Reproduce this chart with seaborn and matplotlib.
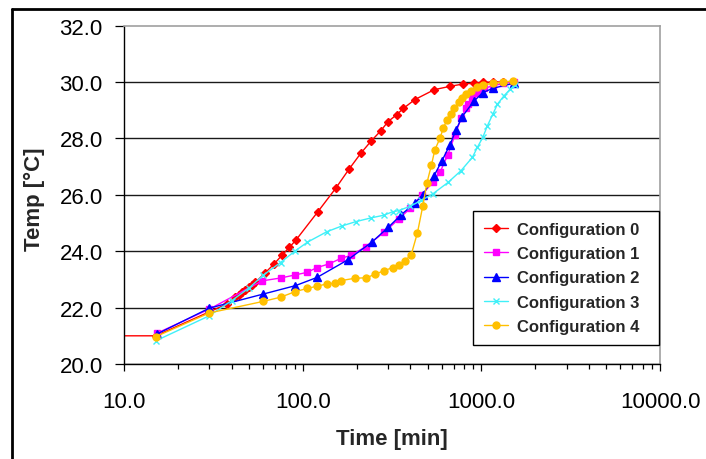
import matplotlib
matplotlib.use("Agg")
import matplotlib.pyplot as plt
import pandas as pd
import seaborn as sns
from matplotlib.lines import Line2D
from matplotlib.ticker import FixedLocator, FormatStrFormatter, LogLocator, NullFormatter

sns.set_style("white")
plt.rcParams["font.family"] = ["Liberation Sans", "DejaVu Sans"]

# ---------------------------------------------------------------
# Data (time in min, temp in degC)
# ---------------------------------------------------------------
time_c0 = [10, 15, 37.6, 41.9, 43.7, 45.6, 47.6, 49.8, 52, 54.2, 61.2, 69, 76.7, 84.1,
           91.3, 121.3, 152.6, 181.3, 210.8, 242, 273, 300, 335, 366, 424, 544, 667,
           786, 906, 1018, 1160, 1320, 1500]
temp_c0 = [21.0, 21.0, 22.13, 22.37, 22.45, 22.54, 22.62, 22.72, 22.8, 22.9, 23.22,
           23.55, 23.87, 24.14, 24.39, 25.4, 26.23, 26.91, 27.47, 27.92, 28.27, 28.6,
           28.84, 29.07, 29.38, 29.73, 29.85, 29.93, 29.96, 29.99, 30.0, 30.0, 30.0]

time_c1 = [15.2, 30, 59.2, 75, 90.6, 105.6, 120, 140, 164, 185, 225, 285, 344, 399,
           462, 533, 586, 648, 712, 769, 820, 843, 890, 950, 1040, 1160, 1320, 1520]
temp_c1 = [21.09, 21.95, 22.95, 23.05, 23.16, 23.25, 23.42, 23.55, 23.75, 23.85, 24.16,
           24.67, 25.14, 25.52, 25.99, 26.44, 26.8, 27.42, 28.13, 28.71, 29.08, 29.22,
           29.46, 29.63, 29.78, 29.87, 29.95, 30.02]

time_c2 = [15.2, 29.9, 59.9, 90.9, 120, 178, 243, 301, 356, 423, 470, 541, 600, 667,
           720, 780, 906, 1020, 1160, 1520]
temp_c2 = [21.06, 21.98, 22.48, 22.78, 23.07, 23.69, 24.32, 24.85, 25.3, 25.7, 26.0,
           26.66, 27.2, 27.78, 28.3, 28.77, 29.32, 29.63, 29.78, 29.96]

time_c3 = [15.1, 29.9, 40, 50, 60, 75, 90, 106, 136, 166, 198, 240, 285, 318, 344, 400,
           460, 533, 650, 769, 890, 950, 1018, 1080, 1160, 1230, 1340, 1450, 1540]
temp_c3 = [20.83, 21.71, 22.25, 22.7, 23.15, 23.6, 24.0, 24.32, 24.69, 24.9, 25.05,
           25.18, 25.28, 25.4, 25.44, 25.6, 25.8, 26.03, 26.44, 26.86, 27.33, 27.69,
           28.04, 28.45, 28.87, 29.22, 29.52, 29.75, 29.9]

time_c4 = [15, 29.9, 59.9, 75, 90.9, 105.6, 120, 136, 152, 164, 195, 227, 255, 285, 318,
           344, 372, 404, 438, 470, 495, 525, 548, 586, 611, 640, 674, 705, 746, 780,
           820, 870, 942, 1020, 1160, 1320, 1500]
temp_c4 = [20.97, 21.81, 22.22, 22.37, 22.57, 22.68, 22.76, 22.84, 22.87, 22.96, 23.04,
           23.06, 23.19, 23.31, 23.42, 23.51, 23.66, 23.87, 24.65, 25.62, 26.42, 27.06,
           27.59, 28.01, 28.36, 28.65, 28.87, 29.08, 29.28, 29.42, 29.57, 29.69, 29.81,
           29.89, 29.96, 30.0, 30.04]

labels = ["Configuration 0", "Configuration 1", "Configuration 2",
          "Configuration 3", "Configuration 4"]
times = [time_c0, time_c1, time_c2, time_c3, time_c4]
temps = [temp_c0, temp_c1, temp_c2, temp_c3, temp_c4]

colors = ["#FF0000", "#FF00FF", "#0000FF", "#40F0F8", "#FFC000"]
markers = ["D", "s", "^", "x", "o"]
msizes = [4.2, 5, 5.5, 5, 5]

y_ticks = [20, 22, 24, 26, 28, 30, 32]
x_ticks = [10, 100, 1000, 10000]

df = pd.concat([pd.DataFrame({"Time": t, "Temp": v, "Config": lab})
                for t, v, lab in zip(times, temps, labels)], ignore_index=True)

# ---------------------------------------------------------------
# Figure
# ---------------------------------------------------------------
W, H = 706, 460
AX_L, AX_R, AX_T, AX_B = 124.3, 660, 26.7, 365
AW, AH = AX_R - AX_L, AX_B - AX_T
fig = plt.figure(figsize=(W / 100, H / 100), dpi=100)
ax = fig.add_axes([AX_L / W, 1 - AX_B / H, AW / W, AH / H])

for lab, col, mk, ms in zip(labels, colors, markers, msizes):
    sub = df[df.Config == lab]
    n = len(sub)
    every = list(range(1, n)) if lab == "Configuration 0" else None
    sns.lineplot(data=sub, x="Time", y="Temp", ax=ax, sort=False, estimator=None,
                 color=col, marker=mk, markersize=ms, markeredgecolor=col,
                 markeredgewidth=1.0, linewidth=1.0, label=lab, markevery=every)

ax.set_xscale("log")
ax.set_xlim(10, 10000)
ax.set_ylim(20, 32)
ax.xaxis.set_major_locator(FixedLocator(x_ticks))
ax.xaxis.set_major_formatter(FormatStrFormatter("%.1f"))
ax.xaxis.set_minor_locator(LogLocator(base=10, subs=range(2, 10)))
ax.xaxis.set_minor_formatter(NullFormatter())
ax.yaxis.set_major_locator(FixedLocator(y_ticks))
ax.yaxis.set_major_formatter(FormatStrFormatter("%.1f"))

ax.tick_params(axis="both", which="both", direction="out", color="black",
               width=0.9, labelsize=16, labelcolor="black")
ax.tick_params(axis="y", which="major", length=6.5, pad=9, left=True)
ax.tick_params(axis="x", which="major", length=5.2, pad=14, bottom=True)
ax.tick_params(axis="x", which="minor", length=3.6, bottom=True)

ax.yaxis.grid(True, color="#1a1a1a", linewidth=1.0)
ax.xaxis.grid(False)
ax.set_axisbelow(True)
fig.canvas.draw()
ax.yaxis.get_major_ticks()[-1].gridline.set_visible(False)

for side in ["left", "bottom"]:
    ax.spines[side].set_color("black")
    ax.spines[side].set_linewidth(1.0)
for side in ["top", "right"]:
    ax.spines[side].set_color("#A0A0A0")
    ax.spines[side].set_linewidth(1.2)

ax.set_xlabel("Time [min]", fontsize=16, fontweight="bold")
ax.set_ylabel("Temp [°C]", fontsize=16, fontweight="bold")
ax.xaxis.set_label_coords(0.5, (AX_B - 429) / AH)
ax.yaxis.set_label_coords((45 - AX_L) / AW, (AX_B - 199) / AH)

# legend box spans x 473..659 px, bottom at 346 px
leg = ax.legend(loc="lower left", mode="expand",
                bbox_to_anchor=((473 - AX_L) / AW, (AX_B - 346) / AH,
                                (659.3 - 473) / AW, 0.4),
                borderaxespad=0, frameon=True, fancybox=False, framealpha=1,
                edgecolor="black", prop={"size": 12, "weight": "bold"},
                handlelength=1.45, handletextpad=0.55, labelspacing=0.56,
                borderpad=0.65)
leg.get_frame().set_linewidth(1.0)

# outer frame of the picture (top and left edges)
fig.add_artist(Line2D([12 / W, 1], [1 - 10 / H, 1 - 10 / H], transform=fig.transFigure,
                      color="black", linewidth=2))
fig.add_artist(Line2D([12 / W, 12 / W], [0, 1 - 10 / H], transform=fig.transFigure,
                      color="black", linewidth=2))

fig.savefig("out.png", dpi=100)
